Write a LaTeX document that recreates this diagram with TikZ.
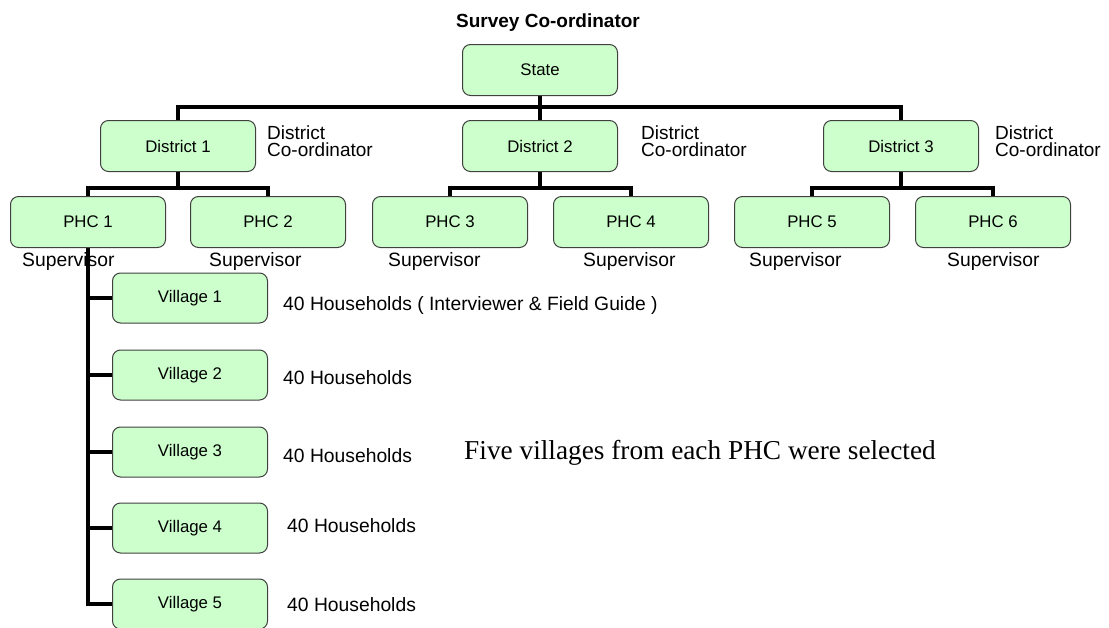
\documentclass[tikz,border=0pt]{standalone}
\usepackage{fontspec}
\setmainfont{Liberation Sans}
\newfontfamily\timesf{Liberation Serif}
\usetikzlibrary{backgrounds}
\definecolor{boxfill}{HTML}{CCFFCC}
\definecolor{boxline}{HTML}{404040}
\tikzset{
  orgbox/.style={draw=boxline, line width=1pt, fill=boxfill, rounded corners=8pt,
    minimum width=155pt, minimum height=51pt, inner sep=0pt,
    font=\fontsize{16.8}{19}\selectfont},
  vbox/.style={orgbox, minimum height=50pt},
  conn/.style={line width=4.5pt, black},
  lbl/.style={inner sep=0pt, anchor=west, font=\fontsize{19.3}{21}\selectfont},
  lbl2/.style={inner sep=0pt, anchor=west, align=left, font=\fontsize{19}{17}\selectfont},
}
\begin{document}
\begin{tikzpicture}[x=1pt, y=-1pt]
\useasboundingbox (0,0) rectangle (1109,627);
% title
\node[inner sep=0pt, font=\bfseries\fontsize{19}{21}\selectfont] (title) at (548,23) {Survey Co-ordinator};
% boxes
\node[orgbox] (state) at (540,70) {State};
\node[orgbox] (d1) at (178,146) {District 1};
\node[orgbox] (d2) at (540,146) {District 2};
\node[orgbox] (d3) at (901,146) {District 3};
\node[orgbox] (p1) at (88,222) {PHC 1};
\node[orgbox] (p2) at (268,222) {PHC 2};
\node[orgbox] (p3) at (450,222) {PHC 3};
\node[orgbox] (p4) at (631,222) {PHC 4};
\node[orgbox] (p5) at (812,222) {PHC 5};
\node[orgbox] (p6) at (993,222) {PHC 6};
\node[vbox] (v1) at (190,298) {Village 1};
\node[vbox] (v2) at (190,375) {Village 2};
\node[vbox] (v3) at (190,452) {Village 3};
\node[vbox] (v4) at (190,528) {Village 4};
\node[vbox] (v5) at (190,604) {Village 5};
% labels
\node[lbl2] (dc1) at (267,141) {District\\Co-ordinator};
\node[lbl2] (dc2) at (641,141) {District\\Co-ordinator};
\node[lbl2] (dc3) at (995,141) {District\\Co-ordinator};
\node[lbl] (s1) at (22,262) {Supervisor};
\node[lbl] (s2) at (209,262) {Supervisor};
\node[lbl] (s3) at (388,262) {Supervisor};
\node[lbl] (s4) at (583,262) {Supervisor};
\node[lbl] (s5) at (749,262) {Supervisor};
\node[lbl] (s6) at (947,262) {Supervisor};
\node[lbl] (h1) at (283,306) {40 Households ( Interviewer \& Field Guide )};
\node[lbl] (h2) at (283,378) {40 Households};
\node[lbl] (h3) at (283,456) {40 Households};
\node[lbl] (h4) at (287,526) {40 Households};
\node[lbl] (h5) at (287,605) {40 Households};
\node[inner sep=0pt, font=\timesf\fontsize{27.3}{29}\selectfont] (note) at (700,453) {Five villages from each PHC were selected};
% connectors
\coordinate (sbar) at (540,107);
\coordinate (b1) at (178,188);
\coordinate (b2) at (540,188);
\coordinate (b3) at (901,188);
\begin{pgfonlayer}{background}
\draw[conn] (state.south) -- (sbar);
\draw[conn] (d1.north) |- (sbar) -| (d3.north);
\draw[conn] (sbar) -- (d2.north);
\draw[conn] (d1.south) -- (b1);
\draw[conn] (p1.north) |- (b1) -| (p2.north);
\draw[conn] (d2.south) -- (b2);
\draw[conn] (p3.north) |- (b2) -| (p4.north);
\draw[conn] (d3.south) -- (b3);
\draw[conn] (p5.north) |- (b3) -| (p6.north);
\draw[conn] (p1.south) -- (p1.south |- v5.west) -- (v5.west);
\draw[conn] (p1.south |- v1.west) -- (v1.west);
\draw[conn] (p1.south |- v2.west) -- (v2.west);
\draw[conn] (p1.south |- v3.west) -- (v3.west);
\draw[conn] (p1.south |- v4.west) -- (v4.west);
\end{pgfonlayer}
\end{tikzpicture}
\end{document}
